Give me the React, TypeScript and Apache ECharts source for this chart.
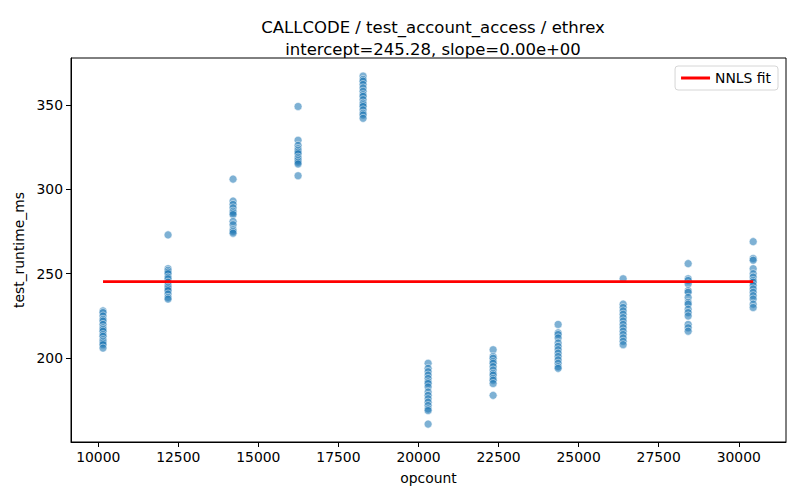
import React, { useEffect, useRef } from "react";
import * as echarts from "echarts";

const opcounts = [10150, 12180, 14210, 16240, 18270, 20300, 22330, 24360, 26390, 28420, 30450];

const runtimes: number[][] = [
  [228, 227, 225, 223, 222, 220, 218, 217, 216, 214, 213, 211, 210, 209, 208, 206],
  [273, 253, 252, 251, 250, 248, 247, 245, 243, 242, 241, 240, 238, 236, 235],
  [306, 293, 291, 289, 287, 286, 285, 281, 279, 276, 275, 274],
  [349, 329, 326, 324, 323, 322, 321, 319, 318, 317, 316, 315, 308],
  [367, 365, 364, 362, 360, 358, 356, 355, 353, 351, 350, 349, 347, 345, 344, 342],
  [197, 194, 192, 190, 188, 186, 185, 183, 180, 178, 176, 174, 172, 170, 169, 161],
  [205, 201, 200, 198, 197, 195, 193, 191, 190, 188, 187, 185, 178],
  [220, 215, 214, 212, 209, 207, 205, 203, 201, 199, 197, 195, 194],
  [247, 232, 230, 228, 226, 224, 222, 220, 218, 216, 214, 212, 210, 208],
  [256, 247, 246, 244, 240, 239, 236, 233, 232, 229, 227, 225, 220, 218, 216],
  [269, 259, 258, 253, 250, 248, 246, 245, 243, 241, 239, 237, 235, 232, 230],
];

const intercept = 245.28;
const slope = 0;
const xTicks = [10000, 12500, 15000, 17500, 20000, 22500, 25000, 27500, 30000];
const yTicks = [200, 250, 300, 350];

export default function App() {
  const ref = useRef<HTMLDivElement>(null);
  useEffect(() => {
    if (!ref.current) return;
    const chart = echarts.init(ref.current, null, { renderer: "svg" });
    const points: number[][] = [];
    opcounts.forEach((x, i) => runtimes[i].forEach((y) => points.push([x, y])));
    const xMin = opcounts[0];
    const xMax = opcounts[opcounts.length - 1];
    const font = "DejaVu Sans";
    chart.setOption({
      animation: false,
      textStyle: { fontFamily: font },
      title: {
        text: "CALLCODE / test_account_access / ethrex\nintercept=245.28, slope=0.00e+00",
        left: 428,
        top: 11,
        textAlign: "center",
        textStyle: { fontFamily: font, fontSize: 16.5, fontWeight: "normal", color: "#000", lineHeight: 22 },
      },
      legend: {
        data: ["NNLS fit"],
        right: 22,
        top: 66,
        itemWidth: 29,
        itemHeight: 3,
        itemGap: 8,
        padding: [5, 7, 5, 6],
        borderColor: "#d6d6d6",
        borderWidth: 1,
        borderRadius: 3,
        backgroundColor: "rgba(255,255,255,0.8)",
        icon: "rect",
        textStyle: { fontFamily: font, fontSize: 13.9, color: "#000" },
      },
      grid: {
        left: 71,
        right: 14,
        top: 58,
        bottom: 58,
        show: true,
        borderColor: "#000",
        borderWidth: 1,
        containLabel: false,
      },
      xAxis: {
        type: "value",
        min: 9150,
        max: 31475,
        name: "opcount",
        nameLocation: "middle",
        nameGap: 29,
        nameTextStyle: { fontFamily: font, fontSize: 13.9, color: "#000" },
        axisLine: { show: true, onZero: false, lineStyle: { color: "#000", width: 1 } },
        axisTick: { show: true, customValues: xTicks, length: 5, lineStyle: { color: "#000" } },
        axisLabel: {
          customValues: xTicks,
          margin: 8,
          fontFamily: font,
          fontSize: 13.9,
          color: "#000",
          formatter: (v: number) => String(v),
        },
        splitLine: { show: false },
      },
      yAxis: {
        type: "value",
        min: 150.4,
        max: 377.7,
        name: "test_runtime_ms",
        nameLocation: "middle",
        nameGap: 44,
        nameTextStyle: { fontFamily: font, fontSize: 13.9, color: "#000" },
        axisLine: { show: true, onZero: false, lineStyle: { color: "#000", width: 1 } },
        axisTick: { show: true, customValues: yTicks, length: 5, lineStyle: { color: "#000" } },
        axisLabel: {
          customValues: yTicks,
          margin: 8,
          fontFamily: font,
          fontSize: 13.9,
          color: "#000",
          formatter: (v: number) => String(v),
        },
        splitLine: { show: false },
      },
      series: [
        {
          type: "scatter",
          name: "data",
          data: points,
          symbolSize: 8,
          itemStyle: { color: "rgba(31,119,180,0.72)", borderColor: "rgba(255,255,255,0.9)", borderWidth: 0.7 },
          z: 2,
        },
        {
          type: "line",
          name: "NNLS fit",
          data: [
            [xMin, intercept + slope * xMin],
            [xMax, intercept + slope * xMax],
          ],
          showSymbol: false,
          symbol: "none",
          color: "#ff0000",
          lineStyle: { color: "#ff0000", width: 2.8 },
          itemStyle: { color: "#ff0000" },
          z: 3,
        },
      ],
    });
    return () => chart.dispose();
  }, []);
  return <div ref={ref} style={{ width: 800, height: 500, position: "absolute", left: 0, top: 0 }} />;
}
